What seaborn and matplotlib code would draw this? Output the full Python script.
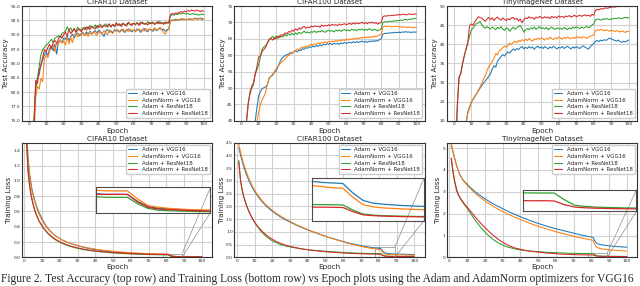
import numpy as np
import pandas as pd
import matplotlib
matplotlib.use("Agg")
import matplotlib.pyplot as plt
import seaborn as sns
from mpl_toolkits.axes_grid1.inset_locator import mark_inset

# ---------- data ----------
epochs = list(range(1, 101))
runs = ["Adam + VGG16", "AdamNorm + VGG16", "Adam + ResNet18", "AdamNorm + ResNet18"]
colors = ["#1f77b4", "#ff7f0e", "#2ca02c", "#d62728"]
datasets = ["CIFAR10 Dataset", "CIFAR100 Dataset", "TinyImageNet Dataset"]

# test accuracy - CIFAR10
c10_acc_adam_vgg = [40, 60, 73.5, 80.8, 82.5, 83.0, 84.8, 85.6, 86.5, 87.0,
                    86.4, 87.6, 88.0, 87.2, 88.4, 86.6, 88.8, 89.0, 88.6, 89.4,
                    89.2, 89.8, 89.0, 89.6, 90.1, 89.4, 90.0, 90.3, 89.8, 90.2,
                    90.4, 89.9, 90.5, 90.1, 90.6, 90.2, 90.4, 90.7, 90.3, 90.8,
                    90.5, 90.2, 89.7, 90.6, 90.9, 90.4, 90.7, 90.3, 90.9, 90.6,
                    90.8, 90.5, 90.9, 90.6, 90.4, 90.8, 91.0, 90.7, 90.5, 90.9,
                    90.6, 91.0, 90.8, 90.4, 90.9, 91.1, 90.7, 90.5, 91.0, 90.8,
                    90.6, 91.1, 90.7, 90.9, 91.2, 90.8, 91.0, 90.6, 90.9, 91.0,
                    92.4, 92.6, 92.5, 92.7, 92.6, 92.5, 92.8, 92.6, 92.7, 92.6,
                    92.7, 92.8, 92.6, 92.7, 92.9, 92.8, 92.7, 92.9, 92.8, 92.7]
c10_acc_norm_vgg = [38, 58, 71.5, 79.0, 81.0, 80.5, 82.4, 81.8, 85.8, 86.5,
                    86.0, 87.2, 87.8, 88.2, 87.0, 88.6, 88.3, 89.2, 88.5, 88.9,
                    88.2, 89.6, 88.4, 89.5, 88.6, 89.9, 90.3, 89.6, 90.1, 89.8,
                    90.4, 89.9, 90.2, 89.7, 90.5, 90.0, 90.6, 90.2, 89.9, 90.6,
                    90.3, 90.1, 90.7, 90.4, 90.0, 90.8, 90.5, 90.2, 90.7, 90.9,
                    90.6, 90.4, 90.8, 91.0, 90.6, 90.9, 90.5, 91.0, 90.7, 90.9,
                    90.5, 90.8, 91.0, 90.7, 90.9, 90.6, 91.1, 90.8, 91.0, 90.7,
                    90.9, 91.2, 90.8, 91.0, 91.3, 90.9, 90.4, 90.1, 90.6, 91.0,
                    92.3, 92.5, 92.6, 92.4, 92.7, 92.5, 92.6, 92.8, 92.6, 92.7,
                    92.6, 92.8, 92.7, 92.6, 92.8, 92.7, 92.9, 92.8, 92.6, 92.7]
c10_acc_adam_res = [48, 66, 75.5, 80.5, 82.3, 84.5, 86.5, 87.4, 87.8, 88.2,
                    88.4, 88.8, 89.2, 88.6, 89.4, 89.6, 89.8, 89.5, 90.2, 90.4,
                    90.6, 91.4, 90.8, 91.2, 90.5, 91.0, 90.6, 91.3, 90.8, 90.9,
                    91.2, 90.9, 91.4, 91.0, 91.6, 91.3, 91.2, 91.7, 91.1, 91.6,
                    91.8, 91.4, 91.6, 91.9, 91.3, 91.7, 91.5, 91.8, 91.4, 91.7,
                    91.9, 91.6, 91.8, 92.0, 91.6, 91.9, 92.1, 91.7, 91.9, 92.0,
                    91.7, 92.1, 91.8, 92.2, 91.9, 92.0, 91.8, 92.3, 91.9, 92.1,
                    92.0, 91.8, 92.2, 91.9, 92.3, 92.0, 92.1, 91.9, 92.2, 92.0,
                    93.3, 93.5, 93.4, 93.6, 93.5, 93.7, 93.6, 93.8, 93.7, 93.6,
                    93.7, 93.5, 93.6, 93.7, 93.5, 93.6, 93.4, 93.5, 93.6, 93.5]
c10_acc_norm_res = [46, 64, 74.0, 82.0, 81.5, 83.8, 84.6, 86.0, 87.4, 87.0,
                    87.8, 88.3, 87.6, 88.7, 89.0, 88.5, 89.3, 89.8, 89.4, 90.0,
                    90.4, 89.8, 90.9, 90.2, 90.6, 91.1, 90.4, 90.8, 91.0, 90.5,
                    91.0, 91.3, 90.8, 91.4, 90.9, 91.5, 91.2, 91.0, 91.6, 91.3,
                    91.5, 91.2, 91.7, 91.4, 91.6, 91.9, 91.3, 91.8, 91.5, 92.1,
                    91.6, 91.9, 91.4, 92.0, 91.7, 91.5, 92.2, 91.8, 91.6, 92.0,
                    91.8, 92.1, 91.6, 91.9, 92.2, 91.8, 92.0, 91.7, 92.1, 91.9,
                    92.2, 91.8, 92.0, 92.3, 91.9, 92.1, 91.8, 92.2, 92.0, 92.1,
                    93.5, 93.7, 93.6, 93.8, 93.7, 93.9, 94.0, 93.9, 94.1, 94.0,
                    94.2, 94.1, 94.3, 94.2, 94.1, 94.3, 94.2, 94.0, 94.2, 94.1]

# test accuracy - CIFAR100
c100_acc_adam_vgg = [12, 20, 26, 30, 33, 35.5, 37.5, 40.0, 44.0, 47.7,
                     48.9, 49.8, 50.1, 50.4, 51.0, 53.1, 53.5, 53.9, 54.8, 55.3,
                     56.4, 57.8, 58.9, 59.4, 59.9, 60.1, 60.3, 60.8, 60.5, 61.1,
                     61.3, 61.0, 61.6, 61.4, 62.0, 61.8, 62.3, 62.1, 62.6, 62.4,
                     62.8, 62.5, 63.0, 62.7, 63.2, 62.9, 63.4, 63.1, 63.5, 63.3,
                     63.6, 63.2, 63.7, 63.4, 63.6, 63.3, 63.8, 63.5, 63.9, 63.6,
                     63.8, 64.0, 63.7, 64.1, 63.8, 64.2, 63.9, 64.1, 64.3, 64.0,
                     64.2, 63.9, 64.3, 64.1, 64.4, 64.2, 64.5, 64.3, 64.8, 65.0,
                     66.4, 66.7, 66.6, 66.8, 66.7, 66.9, 66.8, 67.0, 66.9, 67.0,
                     66.9, 67.1, 67.0, 67.2, 67.0, 67.1, 66.9, 67.1, 67.0, 67.1]
c100_acc_norm_vgg = [10, 17, 23, 27.5, 31, 33.5, 35.5, 37.5, 40.0, 42.6,
                     45.0, 46.3, 47.5, 48.8, 51.2, 52.8, 53.6, 54.3, 55.0, 55.9,
                     56.6, 57.3, 57.9, 58.4, 58.8, 59.5, 59.9, 60.4, 60.8, 61.1,
                     61.4, 61.9, 61.6, 62.2, 62.5, 62.3, 62.8, 62.6, 63.1, 63.3,
                     63.0, 63.5, 63.3, 63.8, 63.5, 63.9, 63.7, 64.1, 63.8, 64.2,
                     64.0, 64.3, 64.1, 64.5, 64.2, 64.6, 64.4, 64.7, 64.5, 64.9,
                     64.6, 65.0, 64.8, 65.1, 64.9, 65.3, 65.0, 65.4, 65.2, 65.5,
                     65.3, 65.6, 65.4, 65.7, 65.5, 65.8, 65.6, 65.9, 66.2, 66.4,
                     68.6, 68.9, 68.7, 68.9, 68.8, 68.6, 68.8, 68.7, 68.9, 68.6,
                     68.7, 68.5, 68.7, 68.6, 68.4, 68.6, 68.5, 68.3, 68.5, 68.4]
c100_acc_adam_res = [20, 31, 40.0, 45.5, 48.0, 50.0, 51.0, 54.5, 55.5, 57.2,
                     59.5, 62.0, 62.5, 63.0, 63.6, 64.8, 65.3, 65.8, 64.9, 65.9,
                     65.2, 66.0, 65.5, 65.7, 66.3, 65.8, 66.5, 66.1, 66.7, 66.2,
                     66.8, 66.4, 67.0, 66.6, 66.9, 67.3, 66.8, 67.1, 66.7, 67.2,
                     67.0, 67.4, 66.9, 67.3, 67.1, 67.5, 67.2, 67.0, 67.4, 67.6,
                     67.3, 67.5, 67.1, 67.6, 67.4, 67.7, 67.3, 67.6, 67.8, 67.5,
                     67.7, 67.4, 67.9, 67.6, 67.8, 67.5, 67.9, 67.7, 68.0, 67.6,
                     67.9, 67.6, 68.1, 67.8, 67.5, 67.9, 67.7, 67.4, 67.8, 68.0,
                     70.0, 70.2, 70.1, 70.3, 70.4, 70.2, 70.5, 70.4, 70.6, 70.5,
                     70.7, 70.6, 70.8, 70.9, 70.7, 71.0, 70.9, 71.1, 71.2, 71.3]
c100_acc_norm_res = [18, 30, 39.5, 45.0, 48.8, 50.5, 51.6, 54.0, 56.6, 59.5,
                     59.8, 61.2, 61.8, 62.4, 63.9, 64.8, 65.1, 64.6, 65.3, 65.0,
                     65.8, 65.4, 66.3, 66.0, 66.8, 66.5, 67.2, 67.0, 67.6, 67.3,
                     68.0, 67.6, 68.3, 67.9, 68.5, 68.8, 68.2, 68.6, 68.4, 68.9,
                     68.6, 69.0, 68.7, 68.9, 68.5, 69.2, 68.8, 69.1, 68.9, 69.3,
                     69.0, 69.4, 69.1, 69.3, 69.0, 69.5, 69.2, 69.4, 69.6, 69.3,
                     69.5, 69.7, 69.4, 69.8, 69.5, 69.9, 69.6, 69.8, 70.0, 69.7,
                     69.9, 69.6, 70.0, 69.8, 70.1, 69.7, 69.9, 69.5, 69.8, 70.0,
                     71.8, 72.0, 71.9, 72.1, 72.0, 72.2, 72.1, 72.3, 72.2, 72.4,
                     72.3, 72.4, 72.5, 72.3, 72.4, 72.6, 72.5, 72.4, 72.6, 72.5]

# test accuracy - TinyImageNet
tin_acc_adam_vgg = [5, 9, 12, 14, 16, 17.5, 19.5, 22.2, 23.6, 24.9,
                    25.5, 26.3, 27.1, 27.8, 28.5, 29.2, 29.9, 30.4, 31.0, 31.6,
                    32.3, 33.5, 34.4, 34.0, 35.6, 36.2, 36.8, 37.3, 36.9, 37.6,
                    38.0, 37.7, 38.3, 38.8, 38.4, 38.9, 38.6, 39.1, 39.4, 38.8,
                    39.2, 38.9, 39.4, 39.0, 39.3, 38.7, 39.2, 39.5, 39.0, 39.3,
                    38.9, 39.4, 39.1, 38.8, 39.3, 39.0, 39.5, 39.1, 38.8, 39.2,
                    39.0, 39.4, 38.9, 39.2, 39.5, 39.1, 38.8, 39.3, 39.0, 39.4,
                    39.1, 38.9, 39.3, 39.6, 39.2, 39.0, 38.7, 39.4, 39.8, 40.2,
                    40.8, 41.0, 40.7, 41.1, 40.9, 41.2, 41.0, 41.3, 41.6, 41.4,
                    41.2, 41.0, 40.8, 41.1, 40.7, 40.5, 40.8, 40.6, 40.9, 41.1]
tin_acc_norm_vgg = [5, 9, 12, 14, 16, 17.5, 19.0, 21.8, 23.2, 24.8,
                    25.7, 26.4, 27.0, 28.0, 28.8, 29.8, 30.9, 31.8, 33.0, 34.2,
                    34.8, 35.5, 36.3, 37.6, 37.2, 38.3, 38.6, 39.1, 39.5, 39.2,
                    39.8, 40.3, 39.9, 40.5, 40.8, 40.4, 41.0, 40.7, 41.2, 40.9,
                    41.3, 41.0, 41.5, 41.1, 40.8, 41.4, 41.2, 41.6, 41.3, 41.7,
                    41.4, 41.1, 41.6, 41.3, 41.8, 41.5, 41.2, 41.7, 41.4, 41.9,
                    41.6, 41.3, 41.8, 41.5, 41.9, 41.6, 41.4, 41.8, 41.5, 42.0,
                    41.7, 41.9, 41.6, 42.0, 41.8, 41.5, 41.9, 42.1, 42.3, 42.5,
                    43.5, 43.8, 43.6, 43.9, 43.7, 43.5, 43.8, 43.6, 43.4, 43.7,
                    43.5, 43.3, 43.6, 43.4, 43.2, 43.5, 43.3, 43.1, 43.4, 43.3]
tin_acc_adam_res = [10, 23, 31.0, 32.5, 35.0, 36.8, 38.9, 40.5, 42.0, 43.7,
                    44.2, 45.0, 45.4, 45.6, 46.0, 45.1, 44.5, 44.2, 44.6, 44.3,
                    44.0, 44.5, 44.2, 43.8, 44.4, 44.1, 44.6, 44.0, 43.6, 44.3,
                    44.1, 43.4, 44.0, 44.5, 43.9, 44.3, 44.7, 44.9, 44.2, 43.2,
                    43.7, 44.1, 43.8, 44.3, 44.0, 44.5, 43.9, 44.2, 44.6, 44.1,
                    44.3, 44.0, 44.4, 43.8, 44.2, 44.5, 44.1, 43.9, 44.3, 44.0,
                    44.2, 43.9, 44.4, 44.1, 43.8, 44.3, 44.0, 44.5, 44.2, 44.6,
                    44.3, 44.1, 44.5, 44.2, 44.4, 44.7, 44.3, 44.6, 45.0, 45.3,
                    46.4, 46.6, 46.5, 46.3, 46.6, 46.5, 46.7, 46.6, 46.4, 46.7,
                    46.6, 46.8, 46.7, 46.9, 46.8, 46.7, 46.9, 47.0, 46.9, 47.0]
tin_acc_norm_res = [10, 24, 31.5, 32.2, 34.8, 37.0, 38.5, 40.3, 44.8, 45.3,
                    45.0, 45.8, 46.5, 47.2, 47.0, 46.8, 46.4, 46.0, 46.6, 47.0,
                    46.5, 46.9, 46.2, 46.8, 47.1, 46.6, 46.3, 46.9, 46.5, 46.2,
                    46.7, 46.4, 46.9, 47.0, 46.5, 46.8, 46.1, 46.6, 45.6, 46.4,
                    46.9, 46.7, 47.2, 46.8, 47.0, 46.5, 47.1, 46.9, 47.3, 47.0,
                    46.8, 47.2, 46.9, 47.1, 46.7, 47.3, 47.0, 47.2, 46.9, 47.4,
                    47.1, 47.3, 47.0, 47.4, 47.2, 47.5, 47.1, 47.3, 47.6, 47.2,
                    47.4, 47.6, 47.3, 47.5, 47.7, 47.4, 47.6, 47.3, 47.8, 47.6,
                    48.9, 49.1, 49.0, 49.3, 49.2, 49.4, 49.5, 49.4, 49.6, 49.7,
                    49.8, 49.7, 49.9, 49.8, 50.0, 49.9, 50.1, 50.0, 49.9, 50.1]

# training loss - CIFAR10
c10_loss_adam_vgg = [1.80, 1.30, 1.08, 0.92, 0.82, 0.73, 0.66, 0.60, 0.55, 0.50,
                     0.46, 0.42, 0.39, 0.36, 0.335, 0.31, 0.29, 0.275, 0.26, 0.245,
                     0.232, 0.22, 0.21, 0.20, 0.19, 0.182, 0.174, 0.166, 0.159, 0.152,
                     0.146, 0.140, 0.134, 0.129, 0.124, 0.119, 0.114, 0.110, 0.106, 0.102,
                     0.098, 0.095, 0.092, 0.089, 0.086, 0.083, 0.080, 0.078, 0.075, 0.073,
                     0.071, 0.069, 0.067, 0.065, 0.063, 0.061, 0.060, 0.058, 0.056, 0.055,
                     0.054, 0.052, 0.051, 0.050, 0.049, 0.048, 0.047, 0.046, 0.045, 0.044,
                     0.043, 0.042, 0.042, 0.041, 0.040, 0.040, 0.039, 0.039, 0.038, 0.038,
                     0.038, 0.026, 0.017, 0.014, 0.013, 0.012, 0.011, 0.0105, 0.010, 0.0098,
                     0.0095, 0.0093, 0.0091, 0.0089, 0.0087, 0.0086, 0.0085, 0.0084, 0.0083, 0.0082]
c10_loss_norm_vgg = [1.75, 1.28, 1.05, 0.90, 0.80, 0.71, 0.64, 0.58, 0.53, 0.485,
                     0.445, 0.41, 0.38, 0.355, 0.33, 0.308, 0.288, 0.272, 0.257, 0.243,
                     0.231, 0.22, 0.21, 0.201, 0.192, 0.184, 0.176, 0.169, 0.162, 0.156,
                     0.150, 0.144, 0.139, 0.134, 0.129, 0.124, 0.120, 0.116, 0.112, 0.108,
                     0.104, 0.101, 0.098, 0.095, 0.092, 0.089, 0.087, 0.084, 0.082, 0.080,
                     0.077, 0.075, 0.073, 0.071, 0.069, 0.068, 0.066, 0.064, 0.063, 0.061,
                     0.060, 0.058, 0.057, 0.056, 0.055, 0.054, 0.053, 0.052, 0.051, 0.050,
                     0.049, 0.048, 0.047, 0.047, 0.046, 0.046, 0.045, 0.045, 0.044, 0.044,
                     0.044, 0.030, 0.019, 0.016, 0.014, 0.013, 0.012, 0.0115, 0.011, 0.0105,
                     0.0102, 0.0099, 0.0097, 0.0095, 0.0093, 0.0091, 0.0090, 0.0089, 0.0088, 0.0087]
c10_loss_adam_res = [1.70, 1.15, 0.93, 0.79, 0.69, 0.61, 0.55, 0.49, 0.45, 0.41,
                     0.375, 0.345, 0.318, 0.295, 0.274, 0.255, 0.238, 0.223, 0.21, 0.197,
                     0.186, 0.176, 0.167, 0.158, 0.150, 0.143, 0.136, 0.130, 0.124, 0.118,
                     0.113, 0.108, 0.104, 0.100, 0.096, 0.092, 0.089, 0.086, 0.083, 0.080,
                     0.077, 0.075, 0.072, 0.070, 0.068, 0.066, 0.064, 0.062, 0.060, 0.059,
                     0.057, 0.056, 0.054, 0.053, 0.052, 0.050, 0.049, 0.048, 0.047, 0.046,
                     0.045, 0.044, 0.043, 0.042, 0.041, 0.040, 0.040, 0.039, 0.038, 0.037,
                     0.037, 0.036, 0.036, 0.035, 0.035, 0.034, 0.034, 0.034, 0.033, 0.033,
                     0.033, 0.022, 0.014, 0.011, 0.010, 0.0095, 0.009, 0.0086, 0.0083, 0.0081,
                     0.0079, 0.0077, 0.0076, 0.0074, 0.0073, 0.0072, 0.0071, 0.0070, 0.0069, 0.0068]
c10_loss_norm_res = [1.60, 1.12, 0.92, 0.78, 0.68, 0.60, 0.54, 0.485, 0.445, 0.41,
                     0.38, 0.35, 0.325, 0.302, 0.282, 0.263, 0.246, 0.231, 0.217, 0.204,
                     0.193, 0.183, 0.173, 0.165, 0.157, 0.149, 0.142, 0.136, 0.130, 0.124,
                     0.119, 0.114, 0.110, 0.106, 0.102, 0.098, 0.095, 0.091, 0.088, 0.085,
                     0.082, 0.080, 0.077, 0.075, 0.073, 0.071, 0.069, 0.067, 0.065, 0.063,
                     0.062, 0.060, 0.059, 0.057, 0.056, 0.055, 0.053, 0.052, 0.051, 0.050,
                     0.049, 0.048, 0.047, 0.046, 0.045, 0.045, 0.044, 0.043, 0.042, 0.042,
                     0.041, 0.041, 0.040, 0.040, 0.039, 0.039, 0.039, 0.038, 0.038, 0.038,
                     0.038, 0.025, 0.016, 0.013, 0.012, 0.011, 0.0105, 0.010, 0.0096, 0.0093,
                     0.0090, 0.0088, 0.0086, 0.0084, 0.0082, 0.0081, 0.0080, 0.0079, 0.0078, 0.0077]

# training loss - CIFAR100
c100_loss_adam_vgg = [4.30, 4.02, 3.75, 3.52, 3.32, 3.13, 2.97, 2.83, 2.70, 2.58,
                      2.47, 2.37, 2.28, 2.20, 2.12, 2.05, 1.98, 1.92, 1.86, 1.81,
                      1.75, 1.70, 1.66, 1.61, 1.57, 1.53, 1.49, 1.45, 1.42, 1.38,
                      1.35, 1.32, 1.28, 1.25, 1.22, 1.19, 1.16, 1.13, 1.10, 1.08,
                      1.05, 1.02, 1.00, 0.97, 0.95, 0.92, 0.90, 0.87, 0.85, 0.83,
                      0.80, 0.78, 0.76, 0.74, 0.72, 0.70, 0.68, 0.66, 0.64, 0.62,
                      0.60, 0.58, 0.57, 0.55, 0.53, 0.52, 0.50, 0.49, 0.47, 0.46,
                      0.45, 0.43, 0.42, 0.41, 0.40, 0.39, 0.38, 0.37, 0.36, 0.355,
                      0.35, 0.26, 0.19, 0.165, 0.155, 0.148, 0.142, 0.138, 0.134, 0.131,
                      0.128, 0.126, 0.124, 0.122, 0.120, 0.118, 0.117, 0.115, 0.114, 0.113]
c100_loss_norm_vgg = [4.45, 4.15, 3.85, 3.62, 3.42, 3.22, 3.05, 2.90, 2.76, 2.63,
                      2.52, 2.42, 2.33, 2.24, 2.16, 2.09, 2.02, 1.96, 1.90, 1.85,
                      1.79, 1.74, 1.69, 1.65, 1.60, 1.56, 1.52, 1.48, 1.44, 1.41,
                      1.37, 1.34, 1.30, 1.27, 1.24, 1.21, 1.18, 1.15, 1.12, 1.09,
                      1.06, 1.03, 1.01, 0.98, 0.95, 0.93, 0.90, 0.88, 0.85, 0.83,
                      0.80, 0.78, 0.76, 0.74, 0.71, 0.69, 0.67, 0.65, 0.63, 0.61,
                      0.59, 0.57, 0.55, 0.53, 0.51, 0.50, 0.48, 0.46, 0.45, 0.43,
                      0.42, 0.40, 0.39, 0.38, 0.36, 0.35, 0.34, 0.33, 0.32, 0.31,
                      0.305, 0.22, 0.15, 0.13, 0.12, 0.115, 0.11, 0.106, 0.103, 0.10,
                      0.098, 0.096, 0.094, 0.092, 0.090, 0.089, 0.087, 0.086, 0.085, 0.084]
c100_loss_adam_res = [3.80, 3.05, 2.62, 2.35, 2.12, 1.93, 1.77, 1.62, 1.49, 1.37,
                      1.26, 1.16, 1.07, 0.99, 0.92, 0.85, 0.79, 0.74, 0.69, 0.65,
                      0.61, 0.58, 0.55, 0.52, 0.50, 0.48, 0.46, 0.44, 0.43, 0.41,
                      0.40, 0.385, 0.37, 0.36, 0.35, 0.34, 0.33, 0.32, 0.31, 0.30,
                      0.295, 0.288, 0.281, 0.274, 0.268, 0.262, 0.256, 0.250, 0.245, 0.240,
                      0.235, 0.230, 0.225, 0.220, 0.215, 0.211, 0.207, 0.203, 0.199, 0.195,
                      0.191, 0.187, 0.184, 0.180, 0.177, 0.174, 0.171, 0.168, 0.165, 0.163,
                      0.161, 0.159, 0.157, 0.156, 0.155, 0.154, 0.153, 0.152, 0.151, 0.150,
                      0.148, 0.10, 0.062, 0.052, 0.047, 0.044, 0.042, 0.040, 0.039, 0.038,
                      0.037, 0.036, 0.035, 0.034, 0.034, 0.033, 0.033, 0.032, 0.032, 0.031]
c100_loss_norm_res = [3.75, 3.02, 2.60, 2.33, 2.11, 1.92, 1.76, 1.62, 1.49, 1.38,
                      1.28, 1.19, 1.11, 1.04, 0.97, 0.91, 0.85, 0.80, 0.75, 0.71,
                      0.67, 0.63, 0.60, 0.57, 0.54, 0.52, 0.49, 0.47, 0.45, 0.43,
                      0.415, 0.40, 0.385, 0.37, 0.355, 0.34, 0.33, 0.32, 0.31, 0.30,
                      0.29, 0.28, 0.272, 0.264, 0.256, 0.248, 0.241, 0.234, 0.228, 0.222,
                      0.216, 0.210, 0.205, 0.200, 0.195, 0.190, 0.185, 0.181, 0.177, 0.173,
                      0.169, 0.165, 0.161, 0.158, 0.155, 0.152, 0.149, 0.146, 0.143, 0.141,
                      0.139, 0.137, 0.135, 0.133, 0.131, 0.130, 0.129, 0.128, 0.127, 0.126,
                      0.124, 0.085, 0.055, 0.047, 0.043, 0.040, 0.038, 0.037, 0.036, 0.035,
                      0.034, 0.033, 0.033, 0.032, 0.031, 0.031, 0.030, 0.030, 0.029, 0.029]

# training loss - TinyImageNet
tin_loss_adam_vgg = [5.15, 4.80, 4.50, 4.20, 3.95, 3.76, 3.62, 3.51, 3.42, 3.34,
                     3.26, 3.18, 3.11, 3.04, 2.97, 2.91, 2.85, 2.79, 2.73, 2.68,
                     2.63, 2.58, 2.53, 2.48, 2.44, 2.39, 2.35, 2.31, 2.27, 2.23,
                     2.19, 2.15, 2.11, 2.07, 2.03, 2.00, 1.96, 1.93, 1.89, 1.86,
                     1.83, 1.79, 1.76, 1.73, 1.70, 1.67, 1.64, 1.61, 1.58, 1.56,
                     1.53, 1.50, 1.48, 1.45, 1.43, 1.40, 1.38, 1.36, 1.33, 1.31,
                     1.29, 1.27, 1.25, 1.23, 1.21, 1.19, 1.17, 1.15, 1.13, 1.11,
                     1.09, 1.07, 1.05, 1.03, 1.01, 1.00, 0.98, 0.96, 0.95, 0.93,
                     0.91, 0.75, 0.65, 0.61, 0.59, 0.57, 0.56, 0.55, 0.54, 0.53,
                     0.52, 0.51, 0.51, 0.50, 0.49, 0.49, 0.48, 0.48, 0.47, 0.47]
tin_loss_norm_vgg = [5.20, 4.85, 4.52, 4.22, 3.96, 3.76, 3.61, 3.49, 3.39, 3.30,
                     3.21, 3.13, 3.05, 2.97, 2.90, 2.83, 2.76, 2.70, 2.64, 2.58,
                     2.52, 2.47, 2.42, 2.37, 2.32, 2.27, 2.23, 2.18, 2.14, 2.10,
                     2.06, 2.02, 1.98, 1.94, 1.90, 1.87, 1.83, 1.80, 1.76, 1.73,
                     1.70, 1.66, 1.63, 1.60, 1.57, 1.54, 1.51, 1.48, 1.45, 1.43,
                     1.40, 1.37, 1.35, 1.32, 1.30, 1.27, 1.25, 1.22, 1.20, 1.18,
                     1.15, 1.13, 1.11, 1.09, 1.07, 1.05, 1.03, 1.01, 0.99, 0.97,
                     0.95, 0.93, 0.91, 0.89, 0.88, 0.86, 0.84, 0.83, 0.81, 0.80,
                     0.78, 0.58, 0.47, 0.43, 0.41, 0.39, 0.38, 0.37, 0.36, 0.35,
                     0.34, 0.33, 0.33, 0.32, 0.31, 0.31, 0.30, 0.30, 0.29, 0.29]
tin_loss_adam_res = [4.50, 3.85, 3.40, 3.05, 2.85, 2.70, 2.58, 2.46, 2.35, 2.24,
                     2.12, 2.00, 1.88, 1.76, 1.65, 1.54, 1.44, 1.34, 1.25, 1.16,
                     1.08, 1.00, 0.93, 0.86, 0.80, 0.74, 0.69, 0.64, 0.60, 0.56,
                     0.53, 0.50, 0.47, 0.45, 0.43, 0.41, 0.39, 0.37, 0.36, 0.34,
                     0.33, 0.32, 0.31, 0.30, 0.29, 0.285, 0.28, 0.272, 0.265, 0.26,
                     0.255, 0.25, 0.245, 0.24, 0.235, 0.23, 0.226, 0.222, 0.218, 0.214,
                     0.21, 0.207, 0.204, 0.201, 0.198, 0.195, 0.192, 0.190, 0.188, 0.186,
                     0.184, 0.182, 0.180, 0.179, 0.178, 0.177, 0.176, 0.176, 0.175, 0.175,
                     0.175, 0.12, 0.075, 0.065, 0.060, 0.057, 0.055, 0.053, 0.052, 0.051,
                     0.050, 0.049, 0.048, 0.047, 0.047, 0.046, 0.046, 0.045, 0.045, 0.044]
tin_loss_norm_res = [4.55, 3.95, 3.48, 3.12, 2.88, 2.72, 2.60, 2.49, 2.39, 2.30,
                     2.20, 2.10, 2.00, 1.90, 1.80, 1.71, 1.62, 1.53, 1.45, 1.37,
                     1.29, 1.21, 1.13, 1.06, 0.99, 0.92, 0.86, 0.80, 0.74, 0.69,
                     0.64, 0.60, 0.56, 0.52, 0.49, 0.46, 0.43, 0.41, 0.39, 0.37,
                     0.35, 0.335, 0.32, 0.305, 0.29, 0.28, 0.27, 0.26, 0.25, 0.24,
                     0.232, 0.224, 0.216, 0.209, 0.202, 0.196, 0.190, 0.184, 0.179, 0.174,
                     0.160, 0.155, 0.150, 0.146, 0.142, 0.138, 0.135, 0.132, 0.129, 0.127,
                     0.125, 0.122, 0.120, 0.118, 0.116, 0.114, 0.115, 0.113, 0.111, 0.112,
                     0.110, 0.08, 0.060, 0.054, 0.051, 0.049, 0.047, 0.046, 0.045, 0.044,
                     0.043, 0.043, 0.042, 0.042, 0.041, 0.041, 0.040, 0.040, 0.039, 0.039]

acc_ticks = [[75.0, 77.5, 80.0, 82.5, 85.0, 87.5, 90.0, 92.5, 95.0],
             [40, 45, 50, 55, 60, 65, 70, 75],
             [20, 25, 30, 35, 40, 45, 50]]
loss_ticks = [[0.0, 0.2, 0.4, 0.6, 0.8, 1.0, 1.2, 1.4],
              [0.0, 0.5, 1.0, 1.5, 2.0, 2.5, 3.0, 3.5, 4.0, 4.5],
              [0, 1, 2, 3, 4, 5]]
caption = ("Figure 2. Test Accuracy (top row) and Training Loss (bottom row) vs "
           "Epoch plots using the Adam and AdamNorm optimizers for VGG16")

acc_series = [[c10_acc_adam_vgg, c10_acc_norm_vgg, c10_acc_adam_res, c10_acc_norm_res],
              [c100_acc_adam_vgg, c100_acc_norm_vgg, c100_acc_adam_res, c100_acc_norm_res],
              [tin_acc_adam_vgg, tin_acc_norm_vgg, tin_acc_adam_res, tin_acc_norm_res]]
loss_series = [[c10_loss_adam_vgg, c10_loss_norm_vgg, c10_loss_adam_res, c10_loss_norm_res],
               [c100_loss_adam_vgg, c100_loss_norm_vgg, c100_loss_adam_res, c100_loss_norm_res],
               [tin_loss_adam_vgg, tin_loss_norm_vgg, tin_loss_adam_res, tin_loss_norm_res]]


def to_frame(series):
    rows = []
    for name, vals in zip(runs, series):
        rows.append(pd.DataFrame({"Epoch": epochs, "value": vals, "run": name}))
    return pd.concat(rows, ignore_index=True)


# ---------- plot ----------
sns.set_style("whitegrid", {"axes.edgecolor": "0.2", "grid.color": "0.82"})
plt.rcParams["font.family"] = ["DejaVu Sans"]

fig, axes = plt.subplots(2, 3, figsize=(6.4, 2.86), dpi=100)
fig.subplots_adjust(left=0.034, right=0.996, top=0.979, bottom=0.1,
                    wspace=0.115, hspace=0.19)

acc_ylim = [(75, 95), (40, 75), (20, 50)]
loss_ylim = [(0, 1.5), (0, 4.5), (0, 5.25)]
# inset position and zoom window (y) per dataset
inset_pos = [[0.39, 0.39, 0.60, 0.22], [0.41, 0.32, 0.585, 0.37], [0.40, 0.40, 0.595, 0.19]]
inset_ylim = [(0.0068, 0.050), (0.0, 0.40), (0.024, 0.202)]

for i in range(3):
    # accuracy
    ax = axes[0, i]
    sns.lineplot(data=to_frame(acc_series[i]), x="Epoch", y="value", hue="run",
                 palette=colors, linewidth=0.75, ax=ax)
    ax.set_ylim(*acc_ylim[i])
    ax.set_yticks(acc_ticks[i])
    ax.set_xticks(range(0, 101, 10))
    ax.set_title(datasets[i], fontsize=5.2, pad=1.5)
    ax.set_xlabel("Epoch", fontsize=5.2, labelpad=1)
    ax.set_ylabel("Test Accuracy", fontsize=5.2, labelpad=1)
    ax.legend(loc="lower right", fontsize=4, frameon=True, handlelength=1.6,
              labelspacing=0.3, borderpad=0.35, framealpha=1, edgecolor="0.8")

    # loss
    ax = axes[1, i]
    df = to_frame(loss_series[i])
    sns.lineplot(data=df, x="Epoch", y="value", hue="run",
                 palette=colors, linewidth=0.75, ax=ax)
    ax.set_ylim(*loss_ylim[i])
    ax.set_xlim(-1.5, 106)
    ax.set_yticks(loss_ticks[i])
    ax.set_xticks(range(0, 101, 10))
    ax.set_title(datasets[i], fontsize=5.2, pad=1.5)
    ax.set_xlabel("Epoch", fontsize=5.2, labelpad=1)
    ax.set_ylabel("Training Loss", fontsize=5.2, labelpad=1)
    ax.legend(loc="upper right", fontsize=4, frameon=True, handlelength=1.6,
              labelspacing=0.3, borderpad=0.35, framealpha=1, edgecolor="0.8")

    axins = ax.inset_axes(inset_pos[i])
    sns.lineplot(data=df, x="Epoch", y="value", hue="run", palette=colors,
                 linewidth=0.9, legend=False, ax=axins)
    axins.set_xlim(78, 89)
    axins.set_ylim(*inset_ylim[i])
    axins.set_xticks([])
    axins.set_yticks([])
    axins.set_xlabel("")
    axins.set_ylabel("")
    axins.grid(False)
    for s in axins.spines.values():
        s.set_edgecolor("0.3")
        s.set_linewidth(0.8)
    mark_inset(ax, axins, loc1=1, loc2=4, fc="none", ec="0.55", lw=0.5)

for ax in axes.flat:
    ax.tick_params(labelsize=3.2, pad=1, length=0)
    for s in ax.spines.values():
        s.set_linewidth(0.8)

fig.text(0.002, 0.004, caption, fontsize=8.3, family="Liberation Serif",
         ha="left", va="bottom")

fig.savefig("out.png", dpi=100)
